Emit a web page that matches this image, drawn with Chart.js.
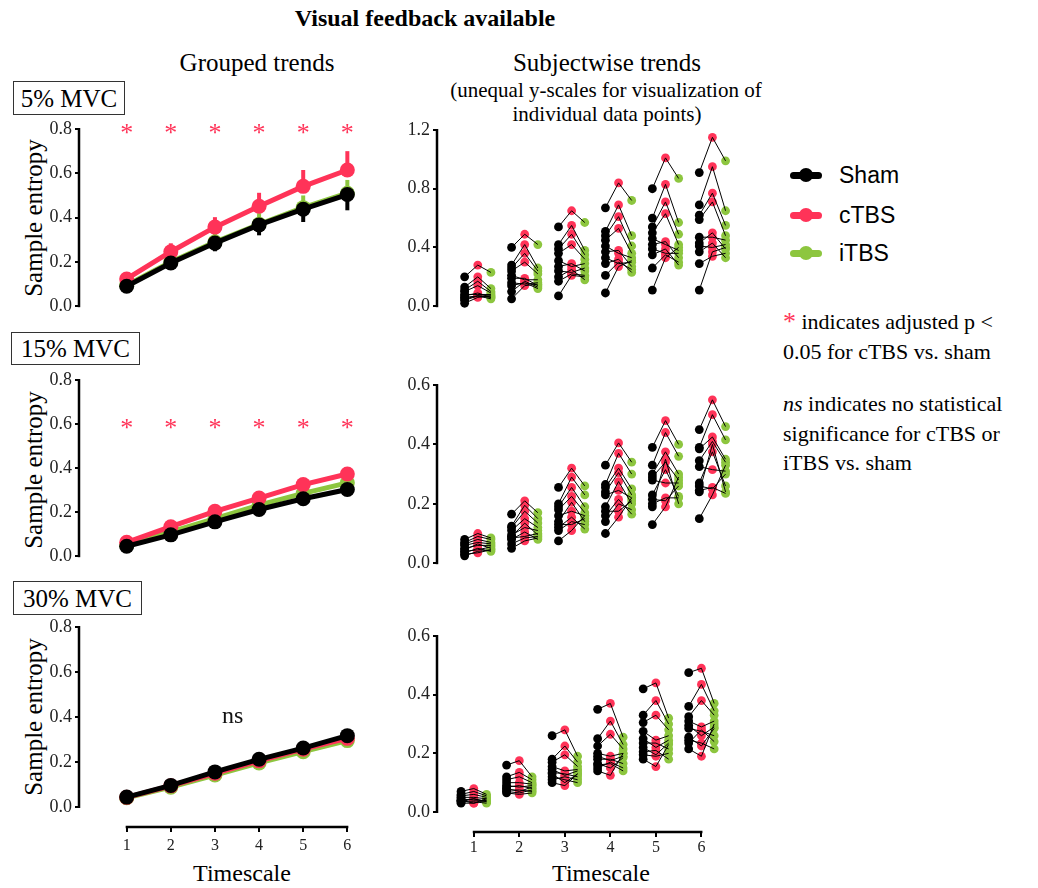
<!DOCTYPE html>
<html><head><meta charset="utf-8">
<script src="https://cdn.jsdelivr.net/npm/chart.js@4"></script>
<style>
body{margin:0;width:1038px;height:888px;background:#fff;position:relative;overflow:hidden;font-family:'Liberation Serif','Times New Roman',serif;color:#000}
.txt{position:absolute;white-space:nowrap;transform:translate(-50%,-50%);line-height:1}
.box{position:absolute;border:1px solid #333;box-sizing:border-box;display:flex;align-items:center;justify-content:center;font-size:25px;line-height:1}
.ylab{position:absolute;transform:translate(-50%,-50%) rotate(-90deg);font-size:25px;white-space:nowrap;line-height:1}
canvas{position:absolute}
.mk{position:absolute;width:32px;height:16px}
.mk .bar{position:absolute;left:0;top:4.5px;width:32px;height:7px;border-radius:3.5px}
.mk .dot{position:absolute;left:9px;top:1px;width:14px;height:14px;border-radius:50%}
.lg{position:absolute;font-family:'Liberation Sans',Arial,sans-serif;font-size:23px;transform:translateY(-50%);line-height:1}
.note{position:absolute;left:783px;font-size:22px;white-space:nowrap}
</style></head><body>
<div class="txt" style="left:425px;top:18px;font-weight:bold;font-size:24px">Visual feedback available</div>
<div class="txt" style="left:257px;top:62px;font-size:25px">Grouped trends</div>
<div class="txt" style="left:607px;top:62px;font-size:25px">Subjectwise trends</div>
<div class="txt" style="left:606px;top:90px;font-size:21px">(unequal y-scales for visualization of</div>
<div class="txt" style="left:607px;top:114px;font-size:21px">individual data points)</div>

<div class="box" style="left:13px;top:81px;width:112px;height:34px">5% MVC</div>
<div class="box" style="left:11px;top:332px;width:129px;height:33px">15% MVC</div>
<div class="box" style="left:13px;top:581px;width:129px;height:34px">30% MVC</div>

<div class="ylab" style="left:33px;top:218px">Sample entropy</div>
<div class="ylab" style="left:33px;top:470px">Sample entropy</div>
<div class="ylab" style="left:33px;top:717px">Sample entropy</div>

<div class="txt" style="left:242px;top:873px;font-size:24px">Timescale</div>
<div class="txt" style="left:601px;top:873px;font-size:24px">Timescale</div>

<div class="mk" style="left:790px;top:167px"><div class="bar" style="background:#000"></div><div class="dot" style="background:#000"></div></div>
<div class="lg" style="left:839px;top:175px">Sham</div>
<div class="mk" style="left:790px;top:207px"><div class="bar" style="background:#ff3358"></div><div class="dot" style="background:#ff3358"></div></div>
<div class="lg" style="left:839px;top:215px">cTBS</div>
<div class="mk" style="left:790px;top:245px"><div class="bar" style="background:#8dc63f"></div><div class="dot" style="background:#8dc63f"></div></div>
<div class="lg" style="left:839px;top:253px">iTBS</div>

<div class="note" style="top:307px;line-height:30px"><span style="color:#ff3358;font-size:26px;vertical-align:top">*</span> indicates adjusted p &lt;<br>0.05 for cTBS vs. sham</div>
<div class="note" style="top:389px;line-height:29.5px"><i>ns</i> indicates no statistical<br>significance for cTBS or<br>iTBS vs. sham</div>

<script>
// ---------- data ----------
const timescales = [1, 2, 3, 4, 5, 6];
const yTicksGrouped = [0, 0.2, 0.4, 0.6, 0.8];
const yTicksSubj5 = [0, 0.4, 0.8, 1.2];
const yTicksSubj = [0, 0.2, 0.4, 0.6];

// Grouped trends (means and error bar lengths)
const sham5Mean = [0.090, 0.195, 0.285, 0.367, 0.438, 0.504];
const ctbs5Mean = [0.123, 0.246, 0.357, 0.451, 0.541, 0.615];
const itbs5Mean = [0.095, 0.200, 0.290, 0.370, 0.445, 0.510];
const sham5Err = [0.010, 0.020, 0.037, 0.047, 0.058, 0.071];
const ctbs5Err = [0.015, 0.038, 0.045, 0.061, 0.074, 0.085];
const itbs5Err = [0.010, 0.030, 0.040, 0.050, 0.055, 0.060];

const sham15Mean = [0.045, 0.097, 0.156, 0.212, 0.261, 0.303];
const ctbs15Mean = [0.063, 0.134, 0.204, 0.264, 0.325, 0.373];
const itbs15Mean = [0.050, 0.110, 0.170, 0.232, 0.285, 0.333];
const sham15Err = [0.005, 0.008, 0.010, 0.012, 0.015, 0.018];
const ctbs15Err = [0.006, 0.010, 0.012, 0.014, 0.017, 0.020];
const itbs15Err = [0.005, 0.008, 0.010, 0.013, 0.015, 0.020];

const sham30Mean = [0.044, 0.096, 0.156, 0.212, 0.262, 0.317];
const ctbs30Mean = [0.043, 0.094, 0.150, 0.205, 0.257, 0.305];
const itbs30Mean = [0.041, 0.088, 0.142, 0.196, 0.246, 0.295];
const sham30Err = [0.004, 0.007, 0.010, 0.012, 0.014, 0.016];
const ctbs30Err = [0.004, 0.007, 0.010, 0.012, 0.014, 0.016];
const itbs30Err = [0.004, 0.007, 0.010, 0.012, 0.014, 0.016];

// significance marks
const starLevel5 = 0.8;
const starLevel15 = 0.6;
const nsPos30 = {x: 3.4, y: 0.40};

// Subjectwise trends: one row per timescale, one value per subject
const sham5Subj = [
  [0.20,0.13,0.11,0.10,0.08,0.07,0.06,0.05,0.04,0.02],
  [0.40,0.28,0.26,0.24,0.21,0.19,0.16,0.14,0.10,0.05],
  [0.54,0.42,0.39,0.36,0.31,0.27,0.24,0.20,0.17,0.07],
  [0.67,0.51,0.48,0.45,0.41,0.37,0.33,0.29,0.21,0.09],
  [0.80,0.60,0.54,0.50,0.46,0.42,0.39,0.35,0.26,0.11],
  [0.91,0.69,0.62,0.59,0.47,0.43,0.41,0.37,0.29,0.11]
];
const ctbs5Subj = [
  [0.28,0.20,0.17,0.14,0.08,0.09,0.07,0.07,0.07,0.06],
  [0.49,0.42,0.36,0.30,0.18,0.19,0.15,0.16,0.17,0.14],
  [0.65,0.55,0.49,0.42,0.27,0.29,0.23,0.25,0.22,0.21],
  [0.84,0.69,0.61,0.53,0.36,0.38,0.29,0.32,0.30,0.27],
  [1.01,0.83,0.71,0.63,0.42,0.44,0.36,0.39,0.35,0.33],
  [1.15,0.95,0.77,0.71,0.47,0.50,0.40,0.43,0.34,0.37]
];
const itbs5Subj = [
  [0.23,0.12,0.10,0.09,0.08,0.06,0.07,0.05,0.06,0.07],
  [0.42,0.26,0.24,0.22,0.18,0.14,0.16,0.12,0.13,0.15],
  [0.57,0.38,0.35,0.32,0.29,0.24,0.26,0.18,0.21,0.20],
  [0.72,0.48,0.41,0.36,0.33,0.27,0.30,0.23,0.25,0.31],
  [0.87,0.57,0.49,0.42,0.38,0.33,0.36,0.28,0.30,0.40],
  [0.99,0.65,0.55,0.48,0.45,0.39,0.42,0.33,0.36,0.40]
];

const sham15Subj = [
  [0.08,0.07,0.065,0.06,0.05,0.045,0.04,0.035,0.03,0.025],
  [0.165,0.125,0.12,0.11,0.095,0.09,0.085,0.08,0.065,0.05],
  [0.255,0.20,0.19,0.18,0.16,0.14,0.13,0.12,0.11,0.075],
  [0.33,0.265,0.255,0.24,0.23,0.19,0.175,0.16,0.14,0.10],
  [0.39,0.33,0.30,0.29,0.28,0.23,0.215,0.20,0.19,0.13],
  [0.45,0.39,0.385,0.345,0.325,0.27,0.26,0.245,0.24,0.15]
];
const ctbs15Subj = [
  [0.10,0.09,0.08,0.07,0.06,0.065,0.045,0.05,0.035,0.04],
  [0.21,0.195,0.175,0.15,0.12,0.135,0.09,0.105,0.085,0.075],
  [0.32,0.29,0.255,0.225,0.175,0.205,0.13,0.155,0.14,0.11],
  [0.405,0.37,0.32,0.305,0.245,0.275,0.175,0.215,0.20,0.155],
  [0.48,0.44,0.375,0.34,0.27,0.315,0.21,0.22,0.35,0.19],
  [0.55,0.50,0.425,0.41,0.315,0.375,0.25,0.255,0.40,0.23]
];
const itbs15Subj = [
  [0.085,0.08,0.07,0.065,0.06,0.05,0.055,0.04,0.045,0.045],
  [0.17,0.15,0.135,0.12,0.11,0.095,0.10,0.08,0.09,0.085],
  [0.26,0.23,0.19,0.17,0.16,0.14,0.15,0.115,0.13,0.16],
  [0.34,0.30,0.25,0.23,0.22,0.20,0.21,0.165,0.18,0.22],
  [0.40,0.36,0.30,0.28,0.27,0.225,0.26,0.22,0.20,0.29],
  [0.46,0.415,0.35,0.34,0.31,0.26,0.30,0.235,0.24,0.33]
];

const sham30Subj = [
  [0.07,0.06,0.055,0.05,0.045,0.04,0.04,0.035,0.035,0.03],
  [0.16,0.12,0.11,0.10,0.09,0.085,0.08,0.075,0.07,0.065],
  [0.26,0.18,0.17,0.155,0.145,0.135,0.13,0.12,0.11,0.10],
  [0.35,0.25,0.225,0.20,0.19,0.18,0.165,0.16,0.15,0.14],
  [0.42,0.33,0.305,0.275,0.25,0.235,0.22,0.205,0.195,0.18],
  [0.475,0.36,0.325,0.31,0.295,0.285,0.255,0.245,0.235,0.215]
];
const ctbs30Subj = [
  [0.08,0.07,0.06,0.05,0.04,0.045,0.03,0.035,0.045,0.03],
  [0.175,0.135,0.12,0.10,0.085,0.09,0.07,0.075,0.065,0.06],
  [0.28,0.225,0.195,0.14,0.125,0.13,0.10,0.11,0.12,0.09],
  [0.37,0.31,0.265,0.19,0.175,0.18,0.15,0.165,0.17,0.125],
  [0.44,0.38,0.33,0.245,0.22,0.235,0.195,0.21,0.19,0.155],
  [0.49,0.435,0.38,0.29,0.26,0.275,0.225,0.235,0.28,0.19]
];
const itbs30Subj = [
  [0.06,0.055,0.05,0.045,0.04,0.035,0.04,0.03,0.035,0.045],
  [0.12,0.11,0.10,0.095,0.09,0.08,0.085,0.07,0.075,0.065],
  [0.19,0.17,0.155,0.145,0.14,0.12,0.13,0.10,0.11,0.13],
  [0.255,0.23,0.215,0.20,0.19,0.165,0.185,0.14,0.15,0.20],
  [0.32,0.30,0.28,0.26,0.245,0.215,0.235,0.18,0.20,0.23],
  [0.37,0.345,0.33,0.31,0.29,0.26,0.285,0.215,0.24,0.30]
];

// ---------- styling ----------
const BLACK = '#000000', RED = '#ff3358', GREEN = '#8dc63f';
const conditionOffsets = [-0.28, 0, 0.28];
Chart.defaults.font.family = "'Liberation Serif','Times New Roman',serif";
Chart.defaults.color = '#111';

function makeCanvas(left, top, w, h) {
  const c = document.createElement('canvas');
  c.width = w; c.height = h;
  c.style.left = left + 'px'; c.style.top = top + 'px';
  c.style.width = w + 'px'; c.style.height = h + 'px';
  document.body.appendChild(c);
  return c;
}

const errPlugin = {
  id: 'errbars',
  beforeDatasetsDraw(chart) {
    const ctx = chart.ctx, xs = chart.scales.x, ys = chart.scales.y;
    const metas = chart.getSortedVisibleDatasetMetas().slice().reverse();
    metas.forEach(meta => {
      const ds = chart.data.datasets[meta.index];
      if (!ds.errors) return;
      ctx.save();
      ctx.strokeStyle = ds.borderColor; ctx.lineWidth = 4;
      ds.data.forEach((p, i) => {
        const e = ds.errors[i];
        const x = xs.getPixelForValue(p.x);
        const y0 = ys.getPixelForValue(p.y);
        const y1 = ys.getPixelForValue(ds.errDir === 'down' ? p.y - e : p.y + e);
        ctx.beginPath(); ctx.moveTo(x, y0); ctx.lineTo(x, y1); ctx.stroke();
      });
      ctx.restore();
    });
  }
};

const marksPlugin = {
  id: 'marks',
  afterDatasetsDraw(chart, args, opts) {
    const items = (opts && opts.items) || [];
    const ctx = chart.ctx;
    items.forEach(it => {
      ctx.save();
      ctx.fillStyle = it.color; ctx.font = it.font;
      ctx.textAlign = 'center'; ctx.textBaseline = 'middle';
      ctx.fillText(it.text, chart.scales.x.getPixelForValue(it.x), chart.scales.y.getPixelForValue(it.y) + (it.dy || 0));
      ctx.restore();
    });
  }
};

const axesPlugin = {
  id: 'axlines',
  afterDraw(chart, args, opts) {
    const ctx = chart.ctx, xs = chart.scales.x, ys = chart.scales.y, a = chart.chartArea;
    ctx.save();
    ctx.strokeStyle = '#000'; ctx.lineWidth = 2.5;
    ctx.beginPath();
    ctx.moveTo(a.left, ys.getPixelForValue(ys.max) - 1);
    ctx.lineTo(a.left, ys.getPixelForValue(0) + 1);
    ctx.stroke();
    if (opts && opts.xLine) {
      ctx.beginPath();
      ctx.moveTo(xs.getPixelForValue(1) - 1, a.bottom);
      ctx.lineTo(xs.getPixelForValue(6) + 1, a.bottom);
      ctx.stroke();
    }
    ctx.restore();
  }
};

function scalesFor(o) {
  return {
    x: {
      type: 'linear', min: o.xmin, max: o.xmax, display: o.showX,
      afterBuildTicks: s => { s.ticks = timescales.map(v => ({value: v})); },
      afterFit: s => { s.height = o.xHeight || 0; },
      border: {display: false},
      grid: {display: true, drawOnChartArea: false, drawTicks: true, tickLength: 5, color: '#000', lineWidth: 2},
      ticks: {font: {size: 16}, color: '#222', padding: o.xPad, maxRotation: 0, autoSkip: false, callback: v => String(v)}
    },
    y: {
      min: o.ymin, max: o.ymax,
      afterBuildTicks: s => { s.ticks = o.yTicks.map(v => ({value: v})); },
      afterFit: s => { s.width = o.yWidth; },
      border: {display: false},
      grid: {display: true, drawOnChartArea: false, drawTicks: true, tickLength: 4, color: '#000', lineWidth: 2},
      ticks: {font: {size: 18}, color: '#222', padding: 3, autoSkip: false, callback: v => Number(v).toFixed(1)}
    }
  };
}

function groupedChart(box, sham, ctbs, itbs, shamE, ctbsE, itbsE, o) {
  const canvas = makeCanvas(box[0], box[1], box[2], box[3]);
  const mk = (label, vals, errs, dir, color, order) => ({
    label, data: timescales.map((t, i) => ({x: t, y: vals[i]})),
    errors: errs, errDir: dir,
    borderColor: color, backgroundColor: color, borderWidth: 5,
    pointRadius: 7.5, pointBorderWidth: 0, pointHoverRadius: 7.5,
    order, clip: false, tension: 0
  });
  new Chart(canvas, {
    type: 'line',
    data: {datasets: [
      mk('Sham', sham, shamE, 'down', BLACK, 1),
      mk('cTBS', ctbs, ctbsE, 'up', RED, 2),
      mk('iTBS', itbs, itbsE, 'up', GREEN, 3)
    ]},
    options: {
      responsive: false, animation: false, events: [],
      layout: {padding: {top: o.padTop, bottom: o.padBottom, left: 0, right: 0}},
      plugins: {legend: {display: false}, tooltip: {enabled: false}, marks: {items: o.marks}, axlines: {xLine: o.showX}},
      scales: scalesFor(Object.assign({xmin: -0.08, xmax: 6.57, ymax: 0.8, yTicks: yTicksGrouped, yWidth: 79, xPad: 4}, o))
    },
    plugins: [errPlugin, marksPlugin, axesPlugin]
  });
}

function subjectChart(box, sham, ctbs, itbs, o) {
  const canvas = makeCanvas(box[0], box[1], box[2], box[3]);
  const pts = (arr, k) => arr.flatMap((vals, i) => vals.map(v => ({x: timescales[i] + conditionOffsets[k], y: v})));
  const links = [];
  sham.forEach((vals, i) => vals.forEach((v, j) => {
    const t = timescales[i];
    links.push({x: t + conditionOffsets[0], y: v},
               {x: t + conditionOffsets[1], y: ctbs[i][j]},
               {x: t + conditionOffsets[2], y: itbs[i][j]},
               {x: t + conditionOffsets[2], y: null});
  }));
  const ptDs = (label, data, color, order) => ({
    label, data, showLine: false, backgroundColor: color, borderColor: color,
    pointRadius: 4.4, pointBorderWidth: 0, pointHoverRadius: 4.4, order, clip: false
  });
  new Chart(canvas, {
    type: 'line',
    data: {datasets: [
      {label: 'links', data: links, borderColor: '#000', borderWidth: 1, pointRadius: 0, pointHoverRadius: 0, spanGaps: false, order: 0, clip: false, tension: 0},
      ptDs('Sham', pts(sham, 0), BLACK, 1),
      ptDs('cTBS', pts(ctbs, 1), RED, 2),
      ptDs('iTBS', pts(itbs, 2), GREEN, 3)
    ]},
    options: {
      responsive: false, animation: false, events: [],
      layout: {padding: {top: o.padTop, bottom: o.padBottom, left: 0, right: 0}},
      plugins: {legend: {display: false}, tooltip: {enabled: false}, axlines: {xLine: o.showX}},
      scales: scalesFor(Object.assign({yWidth: 57, xPad: 1}, o))
    },
    plugins: [axesPlugin]
  });
}

const stars = (level) => timescales.map(t => ({x: t, y: level, text: '*', color: RED, font: '26px "Liberation Serif"', dy: 5}));

// Grouped trends (left column)
groupedChart([0, 110, 380, 210], sham5Mean, ctbs5Mean, itbs5Mean, sham5Err, ctbs5Err, itbs5Err,
  {padTop: 19, padBottom: 10, ymin: 0, showX: false, marks: stars(starLevel5)});
groupedChart([0, 360, 380, 210], sham15Mean, ctbs15Mean, itbs15Mean, sham15Err, ctbs15Err, itbs15Err,
  {padTop: 20, padBottom: 10, ymin: 0, showX: false, marks: stars(starLevel15)});
groupedChart([0, 607, 380, 281], sham30Mean, ctbs30Mean, itbs30Mean, sham30Err, ctbs30Err, itbs30Err,
  {padTop: 20, padBottom: 0, ymin: -0.0889, showX: true, xHeight: 61,
   marks: [{x: nsPos30.x, y: nsPos30.y, text: 'ns', color: '#111', font: '24px "Liberation Serif"', dy: 0}]});

// Subjectwise trends (right column)
subjectChart([380, 110, 370, 210], sham5Subj, ctbs5Subj, itbs5Subj,
  {padTop: 20, padBottom: 10, ymin: 0, ymax: 1.2, yTicks: yTicksSubj5, xmin: 0.131, xmax: 6.707, showX: false});
subjectChart([380, 365, 370, 212], sham15Subj, ctbs15Subj, itbs15Subj,
  {padTop: 20, padBottom: 10, ymin: 0, ymax: 0.6, yTicks: yTicksSubj, xmin: 0.131, xmax: 6.707, showX: false});
subjectChart([380, 616, 370, 272], sham30Subj, ctbs30Subj, itbs30Subj,
  {padTop: 20, padBottom: 0, ymin: -0.0682, ymax: 0.6, yTicks: yTicksSubj, xmin: 0.192, xmax: 6.97, showX: true, xHeight: 56});
</script>
</body></html>
